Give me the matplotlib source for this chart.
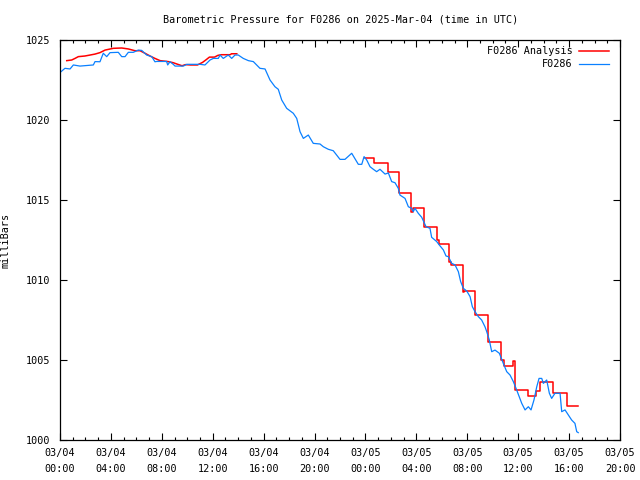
import matplotlib
matplotlib.use("Agg")
import matplotlib.pyplot as plt
from matplotlib.ticker import MultipleLocator

# Hours since 2025-03-04 00:00 UTC
blue_h = [0.08, 0.39, 0.79, 1.05, 1.57, 2.62, 2.75, 3.14, 3.40, 3.67, 3.93, 4.58, 4.85, 5.11, 5.37, 5.76,
          6.15, 6.42, 6.81, 7.21, 7.46, 7.6, 8.38, 8.46, 8.64, 8.90, 9.04, 9.69, 9.96, 11.0, 11.39, 11.79,
          12.05, 12.44, 12.57, 12.83, 13.22, 13.49, 13.75, 14.01, 14.40, 14.80, 15.19, 15.71, 16.11, 16.5,
          16.89, 17.15, 17.42, 17.81, 18.33, 18.60, 18.86, 19.12, 19.51, 19.90, 20.43, 20.69, 21.08, 21.47,
          21.74, 22.0, 22.39, 22.92, 23.44, 23.71, 23.89, 24.1, 24.36, 24.62, 24.88, 25.14, 25.54, 25.8,
          26.06, 26.32, 26.58, 26.71, 27.11, 27.37, 27.63, 27.76, 27.89, 28.15, 28.42, 28.76, 29.07, 29.2,
          29.6, 29.8, 30.12, 30.33, 30.51, 30.78, 31.04, 31.30, 31.48, 31.69, 31.96, 32.22, 32.4, 32.61,
          32.87, 33.13, 33.39, 33.53, 33.73, 33.92, 34.18, 34.52, 34.83, 35.1, 35.36, 35.62, 35.88, 36.28,
          36.54, 36.80, 37.01, 37.24, 37.46, 37.64, 37.85, 37.98, 38.24, 38.45, 38.63, 38.89, 39.29, 39.42,
          39.68, 39.94, 40.2, 40.46, 40.6, 40.72]
blue_p = [1023.02, 1023.23, 1023.19, 1023.44, 1023.37, 1023.44, 1023.65, 1023.64, 1024.17, 1023.96, 1024.21,
          1024.23, 1023.96, 1023.96, 1024.23, 1024.23, 1024.37, 1024.35, 1024.06, 1023.96, 1023.64, 1023.66,
          1023.66, 1023.44, 1023.64, 1023.48, 1023.37, 1023.37, 1023.48, 1023.48, 1023.44, 1023.75, 1023.85,
          1023.85, 1024.06, 1023.85, 1024.06, 1023.85, 1024.06, 1024.06, 1023.85, 1023.71, 1023.65, 1023.23,
          1023.19, 1022.5, 1022.08, 1021.92, 1021.25, 1020.73, 1020.42, 1020.1, 1019.27, 1018.85, 1019.06,
          1018.54, 1018.5, 1018.33, 1018.17, 1018.08, 1017.81, 1017.54, 1017.54, 1017.92, 1017.23, 1017.23,
          1017.71, 1017.5, 1017.08, 1016.92, 1016.77, 1016.92, 1016.62, 1016.69, 1016.15, 1016.08, 1015.73,
          1015.31, 1015.1, 1014.58, 1014.48, 1014.27, 1014.48, 1014.17, 1013.92, 1013.33, 1013.23, 1012.67,
          1012.4, 1012.19, 1011.88, 1011.5, 1011.46, 1011.04, 1010.94, 1010.52, 1009.9, 1009.48, 1009.31,
          1008.96, 1008.33, 1008.02, 1007.71, 1007.5, 1007.08, 1006.77, 1006.25, 1005.52, 1005.62, 1005.42,
          1004.79, 1004.27, 1004.06, 1003.65, 1003.13, 1002.29, 1001.88, 1002.08, 1001.88, 1002.5, 1003.33,
          1003.85, 1003.85, 1003.54, 1003.75, 1002.92, 1002.6, 1002.92, 1002.92, 1001.77, 1001.88, 1001.56,
          1001.25, 1001.04, 1000.52, 1000.46]

# Analysis, first part (day 1)
red1_h = [0.53, 0.92, 1.18, 1.44, 1.96, 2.36, 2.75, 3.14, 3.54, 4.19, 4.85, 5.37, 5.89, 6.29, 6.68, 7.07,
          7.46, 7.86, 8.51, 8.90, 9.18, 9.59, 9.85, 10.25, 10.80, 11.2, 11.47, 11.74, 12.14, 12.41, 12.68,
          13.36, 13.48, 13.89]
red1_p = [1023.71, 1023.75, 1023.85, 1023.96, 1024.0, 1024.06, 1024.12, 1024.21, 1024.37, 1024.48, 1024.5,
          1024.44, 1024.33, 1024.33, 1024.17, 1024.0, 1023.85, 1023.71, 1023.65, 1023.58, 1023.5, 1023.39,
          1023.46, 1023.44, 1023.44, 1023.6, 1023.76, 1023.93, 1023.93, 1024.04, 1024.08, 1024.08, 1024.14,
          1024.14]

# Analysis, second part (stepped)
red2_h = [23.96, 24.70, 25.75, 26.61, 27.60, 27.76, 28.62, 29.6, 29.78, 30.54, 30.72, 31.64, 31.74, 32.58,
          33.63, 34.67, 34.91, 35.57, 35.75, 36.77, 37.4, 37.72, 38.76, 39.81, 40.72]
red2_p = [1017.6, 1017.29, 1016.77, 1015.42, 1014.27, 1014.48, 1013.33, 1012.5, 1012.25, 1011.15, 1010.94,
          1009.27, 1009.33, 1007.81, 1006.15, 1005.0, 1004.65, 1004.94, 1003.13, 1002.75, 1003.06, 1003.65,
          1002.96, 1002.1, 1002.1]

tick_hours = list(range(0, 45, 4))
tick_labels = ["03/04\n00:00", "03/04\n04:00", "03/04\n08:00", "03/04\n12:00", "03/04\n16:00",
               "03/04\n20:00", "03/05\n00:00", "03/05\n04:00", "03/05\n08:00", "03/05\n12:00",
               "03/05\n16:00", "03/05\n20:00"]

plt.rcParams['font.family'] = ['DejaVu Sans Mono']
fig = plt.figure(figsize=(6.4, 4.8), dpi=100)
ax = fig.add_axes([60/640, 40/480, 560/640, 400/480])

red = '#ff0000'
blue = '#0a80ff'
ax.plot(red1_h, red1_p, color=red, lw=1.1, label='F0286 Analysis')
ax.plot(red2_h, red2_p, color=red, lw=1.1, drawstyle='steps-post')
ax.plot(blue_h, blue_p, color=blue, lw=0.9, label='F0286')

ax.set_xlim(0, 44)
ax.set_ylim(1000, 1025)
ax.set_xticks(tick_hours)
ax.set_xticklabels(tick_labels, fontsize=7.3, linespacing=1.75)
ax.xaxis.set_minor_locator(MultipleLocator(1))
ax.set_yticks([1000, 1005, 1010, 1015, 1020, 1025])
ax.set_yticklabels(['1000', '1005', '1010', '1015', '1020', '1025'], fontsize=7.3)
ax.tick_params(which='both', direction='in', top=True, right=True, width=0.8)
ax.tick_params(axis='x', which='major', length=5, pad=6)
ax.tick_params(axis='y', which='major', length=5, pad=7)
ax.tick_params(which='minor', length=2.5)
for s in ax.spines.values():
    s.set_linewidth(0.9)

ax.set_ylabel('milliBars', fontsize=7.3, labelpad=11)
fig.text(0.532, 1 - 20/480, 'Barometric Pressure for F0286 on 2025-Mar-04 (time in UTC)',
         ha='center', va='center', fontsize=7.3)

ax.legend(loc='upper right', frameon=False, markerfirst=False, fontsize=7.3, handlelength=3,
          borderaxespad=0.2, labelspacing=0.3, handletextpad=0.6, bbox_to_anchor=(0.992, 1.0))

fig.savefig('out.png', dpi=100)
